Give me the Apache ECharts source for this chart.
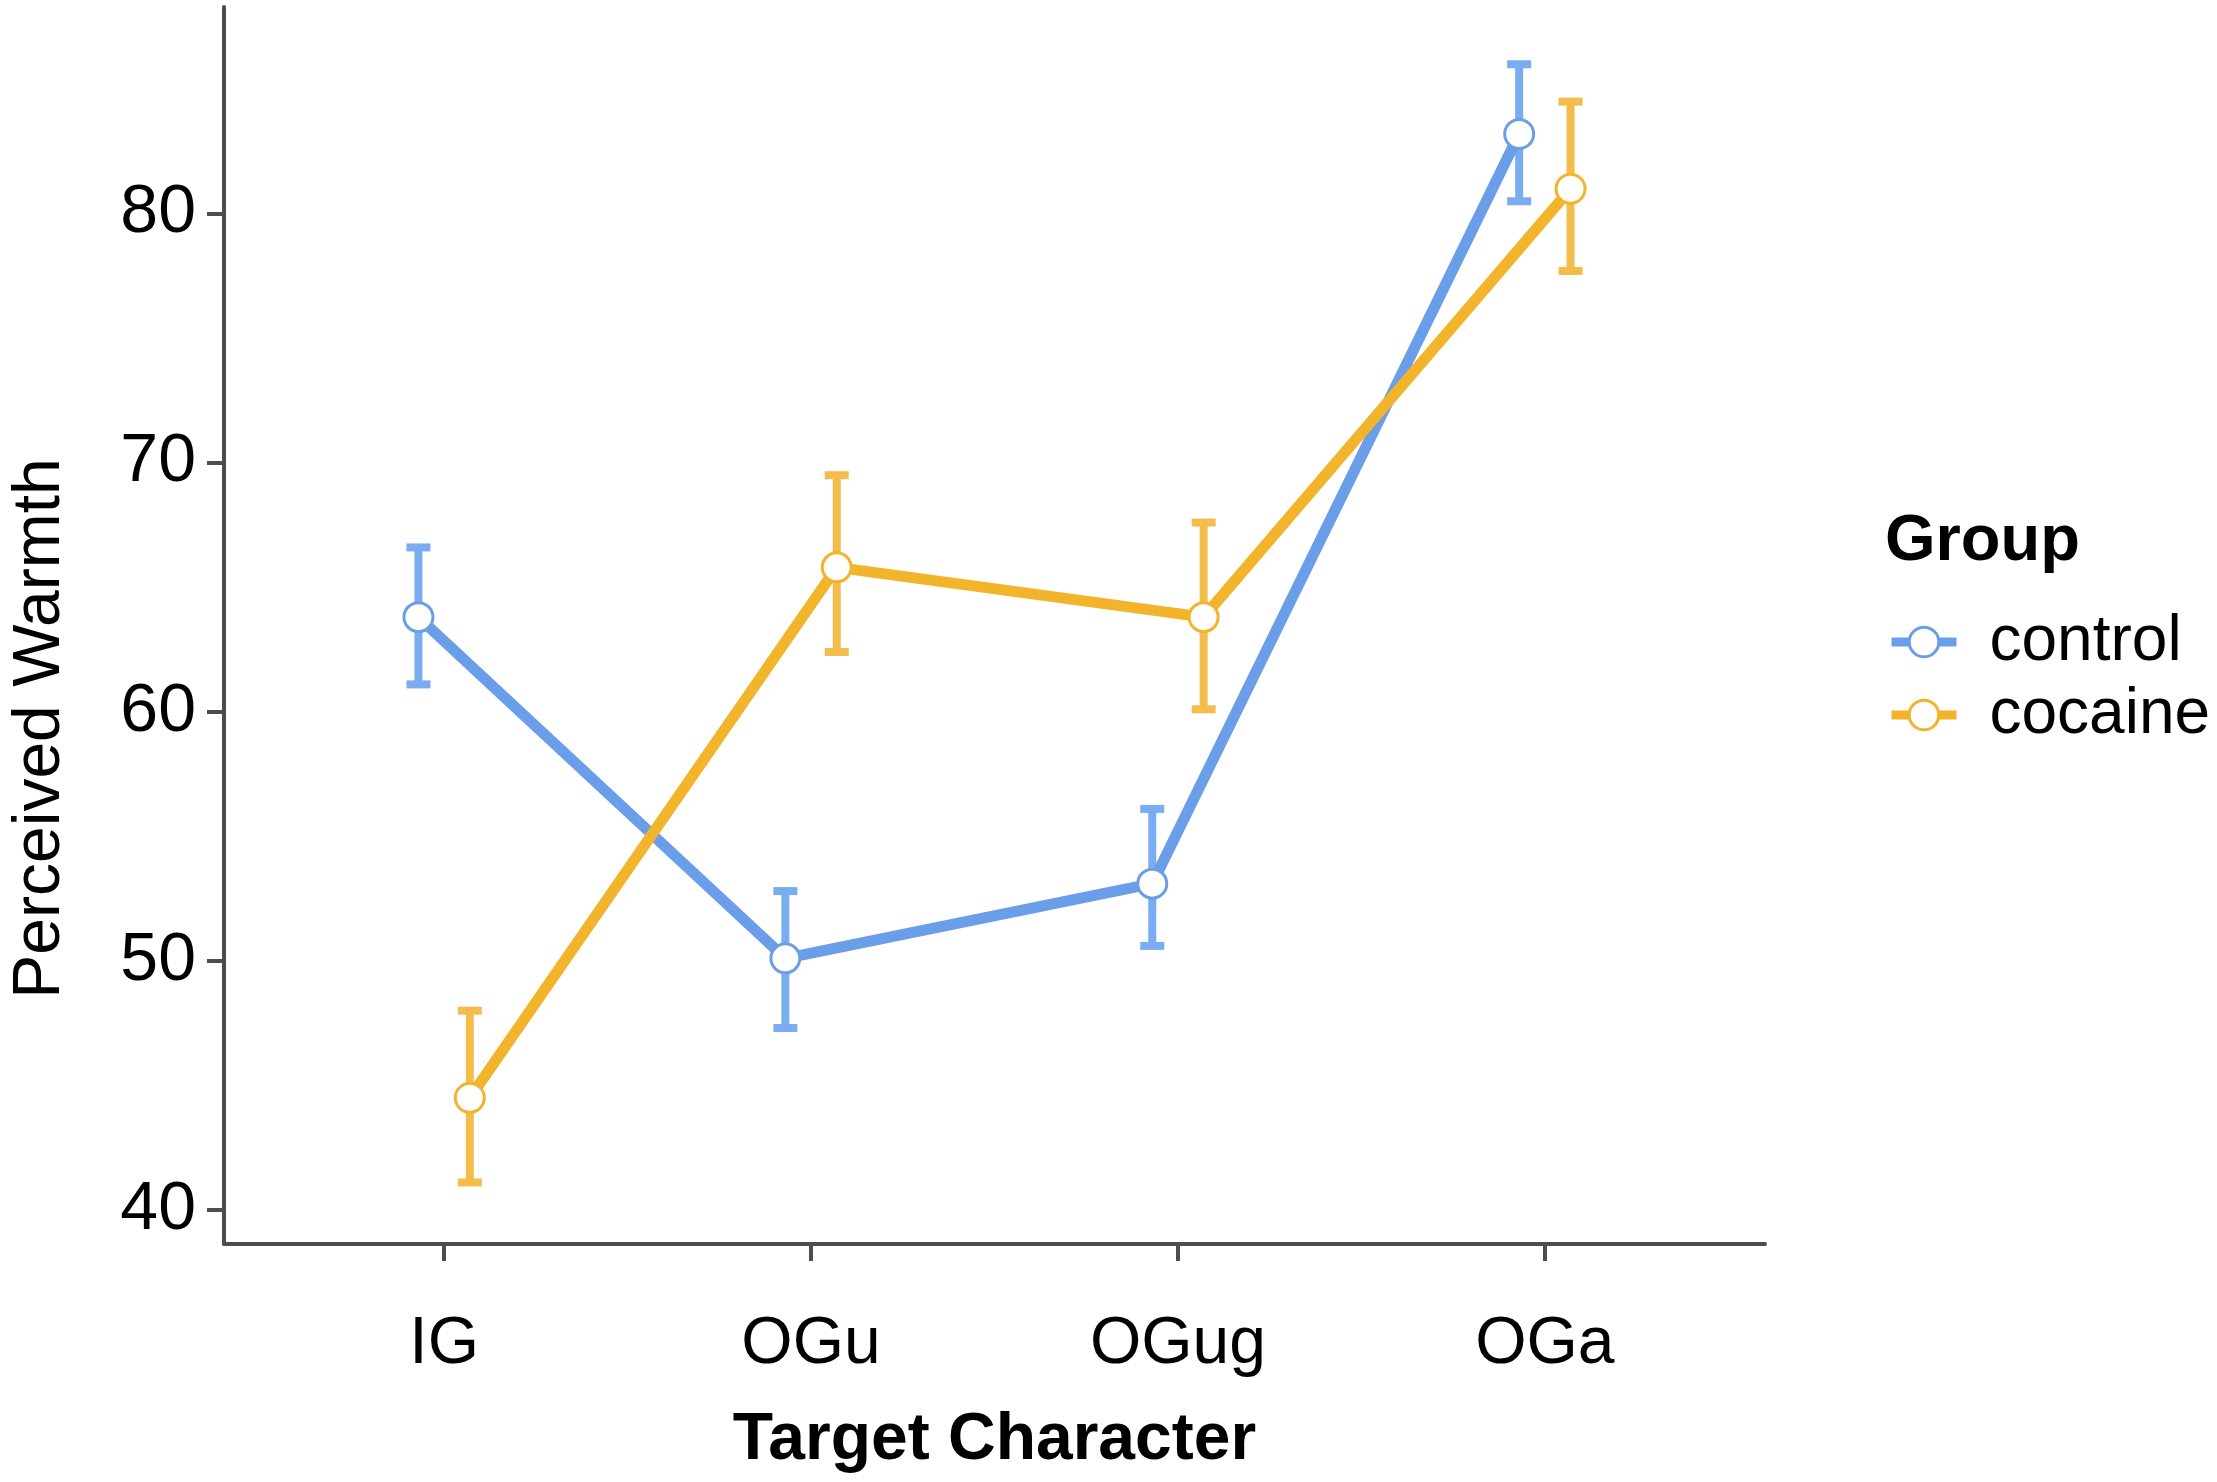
<!DOCTYPE html>
<html>
<head>
<meta charset="utf-8">
<script src="https://cdn.jsdelivr.net/npm/echarts@6/dist/echarts.min.js"></script>
<style>
  html, body { margin: 0; padding: 0; background: #fff; }
  #chart { width: 2217px; height: 1482px; }
</style>
</head>
<body>
<div id="chart"></div>
<script>
// data
const categories = ['IG', 'OGu', 'OGug', 'OGa'];
const groups = ['control', 'cocaine'];
const controlMean = [63.8, 50.1, 53.1, 83.2];
const controlLow = [61.1, 47.3, 50.6, 80.5];
const controlHigh = [66.6, 52.8, 56.1, 86.0];
const cocaineMean = [44.5, 65.8, 63.8, 81.0];
const cocaineLow = [41.1, 62.4, 60.1, 77.7];
const cocaineHigh = [48.0, 69.5, 67.6, 84.5];
const yTicks = [40, 50, 60, 70, 80];

const FONT = "'Liberation Sans', Arial, sans-serif";
const BLUE = '#6a9ee8';
const ORANGE = '#f1b42b';
const DODGE = 0.07; // position_dodge offset

const chart = echarts.init(document.getElementById('chart'));

// x position of a group inside a category (1-based like ggplot)
function xPos(i, g) {
  return i + 1 + (g === 0 ? -DODGE : DODGE);
}

function lineData(means, g) {
  return means.map((v, i) => [xPos(i, g), v]);
}

function errData(low, high, g) {
  return low.map((lo, i) => [xPos(i, g), lo, high[i]]);
}

function errorBar(color) {
  return function (params, api) {
    const x = api.value(0);
    const top = api.coord([x, api.value(2)]);
    const bot = api.coord([x, api.value(1)]);
    const half = 12;
    const style = { stroke: color, lineWidth: 8 };
    return {
      type: 'group',
      children: [
        { type: 'line', shape: { x1: top[0], y1: top[1], x2: bot[0], y2: bot[1] }, style: style },
        { type: 'line', shape: { x1: top[0] - half, y1: top[1], x2: top[0] + half, y2: top[1] }, style: style },
        { type: 'line', shape: { x1: bot[0] - half, y1: bot[1], x2: bot[0] + half, y2: bot[1] }, style: style }
      ]
    };
  };
}

function meanLine(name, data, color) {
  return {
    name: name,
    type: 'line',
    data: data,
    z: 3,
    symbol: 'circle',
    symbolSize: 29,
    lineStyle: { color: color, width: 11 },
    itemStyle: { color: '#fff', borderColor: color, borderWidth: 3 },
    emphasis: { disabled: true },
    animation: false
  };
}

const axisCol = '#4d4d4d';

const option = {
  backgroundColor: '#fff',
  animation: false,
  title: {
    text: 'Group',
    left: 1880,
    top: 505,
    textStyle: { fontFamily: FONT, fontSize: 65, fontWeight: 'bold', color: '#000' }
  },
  legend: {
    data: groups,
    orient: 'vertical',
    left: 1882,
    top: 605,
    itemWidth: 65,
    itemHeight: 37,
    itemGap: 9,
    lineStyle: { width: 9 },
    itemStyle: { borderWidth: 3 },
    textStyle: { fontFamily: FONT, fontSize: 64, color: '#000', padding: [0, 0, 0, 28] }
  },
  grid: { left: 210, right: 452, top: 7, bottom: 238 },
  xAxis: {
    type: 'value',
    min: 0.4,
    max: 4.6,
    name: 'Target Character',
    nameLocation: 'middle',
    nameGap: 164,
    nameTextStyle: { fontFamily: FONT, fontSize: 66, fontWeight: 'bold', color: '#000' },
    axisLine: { show: true, onZero: false, lineStyle: { color: axisCol, width: 4 } },
    axisTick: { show: true, length: 17, customValues: [1, 2, 3, 4], lineStyle: { color: axisCol, width: 4 } },
    axisLabel: {
      customValues: [1, 2, 3, 4],
      margin: 68,
      fontFamily: FONT,
      fontSize: 66,
      color: '#000',
      formatter: v => categories[Math.round(v) - 1]
    },
    splitLine: { show: false }
  },
  yAxis: {
    type: 'value',
    min: 38.63,
    max: 88.3,
    name: 'Perceived Warmth',
    nameLocation: 'middle',
    nameGap: 150,
    nameRotate: 90,
    nameTextStyle: { fontFamily: FONT, fontSize: 66, color: '#000', padding: [0, 206, 0, 0] },
    axisLine: { show: true, lineStyle: { color: axisCol, width: 4 } },
    axisTick: { show: true, length: 17, customValues: yTicks, lineStyle: { color: axisCol, width: 4 } },
    axisLabel: { customValues: yTicks, margin: 28, fontFamily: FONT, fontSize: 68, color: '#000' },
    splitLine: { show: false }
  },
  series: [
    {
      name: 'control-err',
      type: 'custom',
      z: 2,
      renderItem: errorBar('#79acf0'),
      data: errData(controlLow, controlHigh, 0),
      encode: { x: 0, y: [1, 2] },
      silent: true
    },
    {
      name: 'cocaine-err',
      type: 'custom',
      z: 2,
      renderItem: errorBar('#f4bc4a'),
      data: errData(cocaineLow, cocaineHigh, 1),
      encode: { x: 0, y: [1, 2] },
      silent: true
    },
    meanLine('control', lineData(controlMean, 0), BLUE),
    meanLine('cocaine', lineData(cocaineMean, 1), ORANGE)
  ]
};

chart.setOption(option);
</script>
</body>
</html>
